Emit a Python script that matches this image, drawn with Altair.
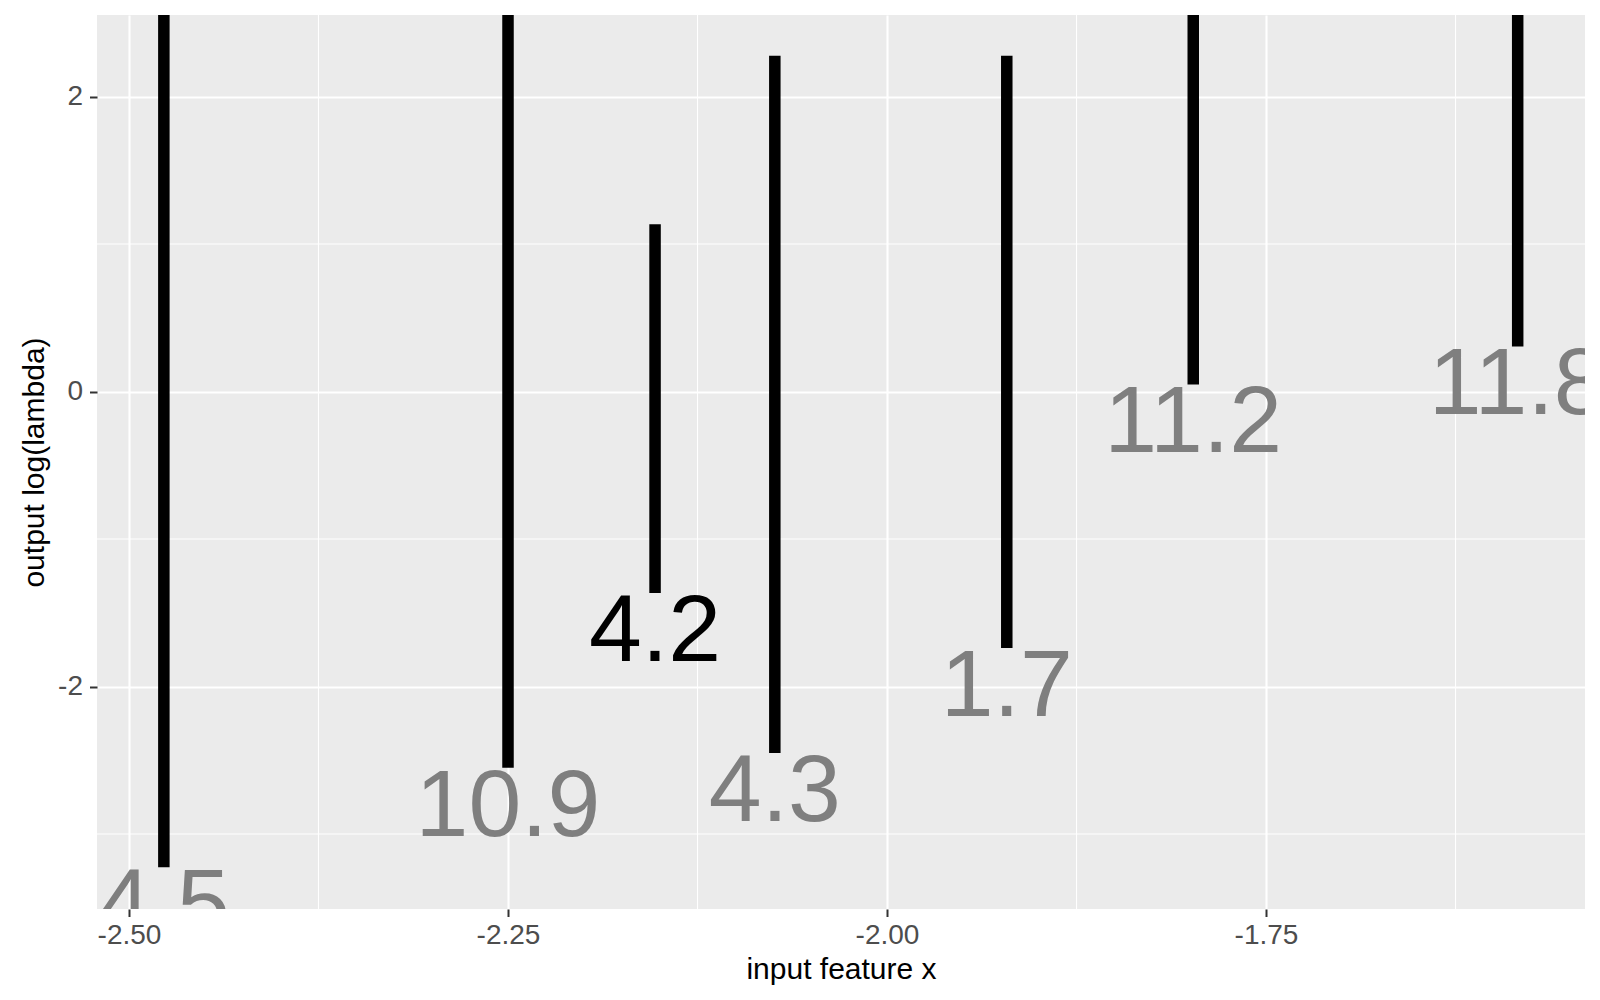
import altair as alt
import pandas as pd

# ---- data ----
seg_x = [-2.477, -2.250, -2.153, -2.074, -1.921, -1.798, -1.584]
seg_low = [-3.225, -2.551, -1.365, -2.450, -1.738, 0.048, 0.306]
seg_high = [3.0, 3.0, 1.135, 2.277, 2.277, 3.0, 3.0]
labels = ["4.5", "10.9", "4.2", "4.3", "1.7", "11.2", "11.8"]
highlight = ["no", "no", "yes", "no", "no", "no", "no"]

x_major = [-2.50, -2.25, -2.00, -1.75]
x_minor = [-2.375, -2.125, -1.875, -1.625]
y_major = [-2, 0, 2]
y_minor = [-3, -1, 1]

x_domain = [-2.5211, -1.5396]
y_domain = [-3.508, 2.553]

seg_df = pd.DataFrame({"x": seg_x, "low": seg_low, "high": seg_high,
                       "label": labels, "hl": highlight})
xminor_df = pd.DataFrame({"x": x_minor})
yminor_df = pd.DataFrame({"low": y_minor})

x_axis = alt.Axis(values=x_major, format=".2f",
                  labelExpr="replace(datum.label, '\u2212', '-')",
                  title="input feature x", grid=True, gridColor="white",
                  gridWidth=2.1, domain=False, tickColor="#333333",
                  tickWidth=2, tickSize=7.5, labelPadding=5, labelFontSize=28,
                  labelColor="#4D4D4D", titleFontSize=30, titleColor="black",
                  titleFontWeight="normal", titlePadding=5)
y_axis = alt.Axis(values=y_major, format="d",
                  labelExpr="replace(datum.label, '\u2212', '-')",
                  title="output log(lambda)", grid=True, gridColor="white",
                  gridWidth=2.1, domain=False, tickColor="#333333",
                  tickWidth=2, tickSize=7.5, labelPadding=7, labelFontSize=28,
                  labelColor="#4D4D4D", titleFontSize=30, titleColor="black",
                  titleFontWeight="normal", titlePadding=8)

xs = alt.Scale(domain=x_domain, nice=False, zero=False)
ys = alt.Scale(domain=y_domain, nice=False, zero=False)


def X():
    return alt.X("x:Q", scale=xs, axis=x_axis)


def Y():
    return alt.Y("low:Q", scale=ys, axis=y_axis)


minor_x = alt.Chart(xminor_df).mark_rule(color="white", strokeWidth=1.1).encode(x=X())
minor_y = alt.Chart(yminor_df).mark_rule(color="white", strokeWidth=1.1).encode(y=Y())

segs = alt.Chart(seg_df).mark_rule(color="black", strokeWidth=11.5,
                                   strokeCap="butt", clip=True).encode(
    x=X(), y=Y(), y2="high:Q")

texts = alt.Chart(seg_df).mark_text(fontSize=95, align="center",
                                    baseline="alphabetic", dy=68,
                                    clip=True).encode(
    x=X(), y=Y(), text="label:N",
    color=alt.Color("hl:N", scale=alt.Scale(domain=["no", "yes"],
                                            range=["#7F7F7F", "#000000"]),
                    legend=None))

chart = alt.layer(minor_x, minor_y, segs, texts).properties(
    width=1488, height=894,
    autosize=alt.AutoSizeParams(type="none"),
    padding={"left": 89, "top": 7, "right": 7, "bottom": 80},
).configure(
    font="Liberation Sans",
    view=alt.ViewConfig(fill="#EBEBEB", strokeWidth=0),
)

chart.save("out.html", embed_options={"renderer": "svg", "actions": False})
